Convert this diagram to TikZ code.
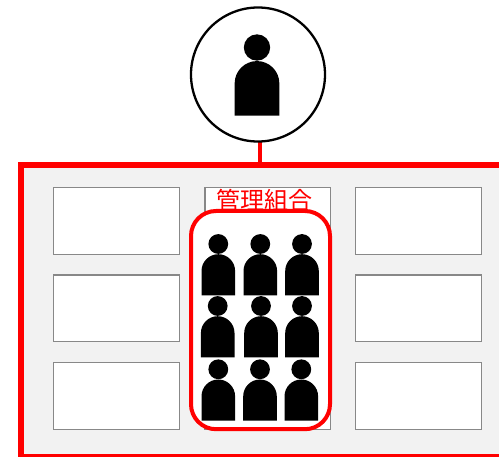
\documentclass[tikz,border=0pt]{standalone}
\usepackage{fontspec}
\newfontfamily\cjk{Noto Sans CJK JP}
\definecolor{panelgray}{HTML}{F2F2F2}
\definecolor{boxgray}{HTML}{888888}
\tikzset{
  unitbox/.style={draw=boxgray,fill=white,line width=1.2pt},
  person/.pic={
    \fill[black] (0,0) circle (9.9);
    \fill[black] (-16.8,51.3) -- (-16.8,27) arc (180:360:16.8) -- (16.8,51.3) -- cycle;
  },
}
\begin{document}
\begin{tikzpicture}[x=1pt,y=-1pt]
  \useasboundingbox (0,0) rectangle (499,457);
  \clip (0,0) rectangle (499,457);

  \draw[draw=red,fill=panelgray,line width=6pt] (21,165) rectangle (520,457); %panel

  \foreach \X in {53.7,355.7} \foreach \Y in {187.7,275,362.7}
    \draw[unitbox] (\X,\Y) rectangle +(125.6,66.5);
  \draw[unitbox] (205,187.7) rectangle (330.6,429.3);

  \node[text=red,font=\cjk,inner sep=0pt] (title) at (264,200) {\fontsize{24}{24}\selectfont 管理組合};

  \draw[draw=red,fill=white,line width=4pt,rounded corners=25pt] (191,211) rectangle (330,429.2); %group

  \coordinate (panelTop) at (259.5,165);
  \coordinate (ownerFoot) at (259.5,141);
  \draw[draw=red,line width=4pt] (ownerFoot) -- (panelTop);
  \node[circle,draw=black,fill=white,line width=2.3pt,minimum size=134pt,inner sep=0pt] (owner) at (258,74.5) {};
  \pic[scale=1.33] at (257,47.5) {person};

  \foreach \X/\Y in {218.3/244,260.3/244,302/244,217.7/306,261/306,302/306,218.3/369.3,260/369.3,301.3/369.3}
    {\pic at (\X,\Y) {person};}
\end{tikzpicture}
\end{document}
